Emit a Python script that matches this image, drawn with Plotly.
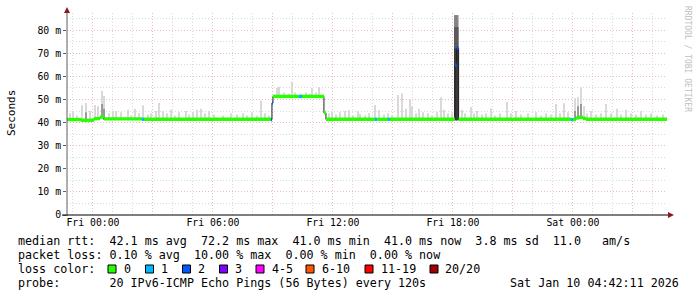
import bisect
import plotly.graph_objects as go
from datetime import datetime, timedelta

# ---------------- data ----------------
FRI = datetime(2026, 1, 9, 0, 0, 0)
T_START = datetime(2026, 1, 8, 22, 42, 11)
T_END = datetime(2026, 1, 10, 4, 42, 11)

# median rtt steps: start minute (relative to Fri 00:00), median ms, lost pings
med_min = [-78, -36, 3, 21, 33, 147, 153, 534, 537, 540, 618, 627, 693, 699,
           846, 852, 885, 891, 1086, 1091, 1097, 1434, 1440, 1449, 1458, 1470, 1479]
med_ms = [41.3, 41.0, 41.7, 42.4, 41.6, 41.4, 41.4, 41.3, 48.4, 51.3, 51.3, 51.3, 44.2, 41.4,
          41.4, 41.4, 41.4, 41.4, 64.9, 72.2, 41.4, 41.3, 41.3, 42.0, 42.3, 41.8, 41.4]
med_loss = [0, 0, 0, 0, 0, 1, 0, 2, 2, 0, 1, 0, 0, 0,
            1, 0, 1, 0, 2, 2, 0, 1, 0, 0, 0, 0, 0]
med_end_min = 1722

# smoke: sampled ping spread (max ping per step)
smoke_min = [-69, -60, -48, -33, -21, -9, 6, 15, 27, 33, 48, 60, 69, 84, 105, 114, 126, 138, 150,
             165, 174, 189, 198, 210, 222, 234, 246, 258, 279, 288, 300, 312, 324, 336, 348, 363,
             390, 414, 432, 450, 462, 477, 492, 504, 516, 528,
             552, 558, 573, 588, 597, 606, 624, 639, 651, 657, 669, 678, 690,
             708, 717, 729, 741, 756, 768, 780, 795, 801, 816, 828, 846, 858, 873, 885, 897,
             915, 927, 939, 951, 957, 969, 978, 990, 1005, 1017, 1032, 1044, 1053, 1065, 1077,
             1107, 1116, 1134, 1143, 1152, 1167, 1179, 1194, 1206, 1221, 1242, 1254, 1269, 1284,
             1305, 1329, 1344, 1359, 1374, 1389, 1401, 1413, 1425, 1446, 1455, 1464, 1473, 1482,
             1494, 1509, 1524, 1539, 1554, 1572, 1584, 1599, 1614, 1629, 1644, 1659, 1674, 1692, 1710]
smoke_top = [44.0, 45.0, 43.0, 47.5, 48.5, 45.0, 47.6, 47.0, 53.8, 51.5, 44.0, 45.0, 45.0, 44.5, 45.5, 43.0, 46.0, 44.0, 47.5,
             43.5, 44.0, 45.0, 48.5, 45.0, 44.0, 45.5, 43.0, 44.5, 45.0, 43.5, 44.5, 45.5, 46.0, 44.0, 45.0, 43.5,
             43.0, 44.0, 43.5, 44.0, 43.0, 44.5, 43.0, 49.4, 44.0, 43.0,
             55.0, 55.5, 53.0, 52.5, 57.6, 53.0, 52.5, 53.0, 52.5, 55.0, 53.0, 55.4, 52.0,
             44.0, 44.7, 43.5, 44.5, 45.0, 45.4, 43.0, 45.0, 43.7, 43.0, 44.0, 47.6, 45.4, 43.5, 44.0, 43.0,
             51.9, 52.6, 46.0, 50.0, 47.0, 44.0, 46.0, 44.5, 44.0, 43.0, 44.5, 51.0, 45.5, 44.0, 44.0,
             45.5, 44.0, 46.7, 44.0, 45.0, 43.5, 44.0, 46.1, 43.0, 44.0, 49.0, 44.0, 45.0, 43.5,
             44.0, 44.5, 43.0, 44.0, 43.5, 48.0, 44.0, 48.4, 44.5, 50.5, 51.0, 55.2, 47.0, 44.0,
             45.0, 43.5, 44.0, 48.0, 44.0, 46.0, 43.5, 45.5, 44.0, 43.5, 45.0, 43.5, 44.0, 43.0, 43.5]

# denser smoke cores
core_min = [-21, 27, 33, 1446, 1455, 1464]
core_top = [44.5, 48.0, 46.0, 45.0, 47.0, 48.0]

# the burst around Fri 18:10
col_min = [1088.5, 1094.0]
col_top = [86.5, 86.5]
col_mid = [81.3, 81.3]
col_inner = [72.0, 72.0]

loss_colors = {0: "#26ff00", 1: "#00b8ff", 2: "#0059ff", 3: "#7e00ff",
               4: "#ff00ff", 6: "#ff5500", 11: "#ff0000", 20: "#a10000"}
loss_labels = ["0", "1", "2", "3", "4-5", "6-10", "11-19", "20/20"]
loss_keys = [0, 1, 2, 3, 4, 6, 11, 20]

y_ticks = [0, 10, 20, 30, 40, 50, 60, 70, 80]
y_ticktext = ["0", "10 m", "20 m", "30 m", "40 m", "50 m", "60 m", "70 m", "80 m"]
x_tick_hours = [0, 3, 6, 9, 12, 15, 18, 21, 24, 27]
x_ticktext = ["Fri 00:00", "", "Fri 06:00", "", "Fri 12:00", "", "Fri 18:00", "", "Sat 00:00", ""]

legend_rows = [
    "median rtt:  42.1 ms avg  72.2 ms max  41.0 ms min  41.0 ms now  3.8 ms sd  11.0   am/s",
    "packet loss: 0.10 % avg  10.00 % max  0.00 % min  0.00 % now",
    "loss color:",
    "probe:       20 IPv6-ICMP Echo Pings (56 Bytes) every 120s",
]
stamp = "Sat Jan 10 04:42:11 2026"

# ---------------- layout geometry ----------------
W, H = 697, 297
PL, PR, PT, PB = 67, 667, 13, 215
YMAX = 87.4
MONO = "DejaVu Sans Mono"


def t(m):
    return FRI + timedelta(minutes=m)


def px(x):
    return (x - PL) / (PR - PL)


def py(y):
    return (PB - y) / (PB - PT)


def median_at(m):
    i = max(bisect.bisect_right(med_min, m) - 1, 0)
    return med_ms[i]


fig = go.Figure()

# smoke (sits on the median level at each step)
s_base = [median_at(m) - 0.5 for m in smoke_min]
fig.add_trace(go.Bar(x=[t(m) for m in smoke_min], y=[v - b for v, b in zip(smoke_top, s_base)],
                     base=s_base, width=4 * 60000, marker=dict(color="#d9d9d9", line_width=0),
                     hoverinfo="skip"))
c_base = [median_at(m) - 0.5 for m in core_min]
fig.add_trace(go.Bar(x=[t(m) for m in core_min], y=[v - b for v, b in zip(core_top, c_base)],
                     base=c_base, width=3 * 60000, marker=dict(color="#9a9a9a", line_width=0),
                     hoverinfo="skip"))
fig.add_trace(go.Bar(x=[t(m) for m in col_min], y=[v - 41 for v in col_top], base=41,
                     width=5.5 * 60000, marker=dict(color="#858585", line_width=0), hoverinfo="skip"))
fig.add_trace(go.Bar(x=[t(m) for m in col_min], y=[v - 41 for v in col_mid], base=41,
                     width=5.5 * 60000, marker=dict(color="#5a5a5a", line_width=0), hoverinfo="skip"))
fig.add_trace(go.Bar(x=[t(m) for m in col_min], y=[v - 41 for v in col_inner], base=41,
                     width=5.5 * 60000, marker=dict(color="#3a3a3a", line_width=0), hoverinfo="skip"))

# median thin line
fig.add_trace(go.Scatter(x=[t(m) for m in med_min] + [t(med_end_min)], y=med_ms + [med_ms[-1]],
                         mode="lines", line=dict(shape="hv", color="#202020", width=1),
                         hoverinfo="skip"))

# median loss-coloured band
ends = med_min[1:] + [med_end_min]
for k in loss_keys:
    xs, ys = [], []
    for s, e, v, l in zip(med_min, ends, med_ms, med_loss):
        if l == k:
            xs += [t(s), t(e), None]
            ys += [v, v, None]
    if xs:
        fig.add_trace(go.Scatter(x=xs, y=ys, mode="lines",
                                 line=dict(color=loss_colors[k], width=3.4), hoverinfo="skip"))

ann = []
shapes = []

# axis lines and arrows
shapes.append(dict(type="line", xref="paper", yref="paper", x0=px(67), x1=px(67), y0=py(216), y1=py(10),
                   line=dict(color="#606060", width=1)))
shapes.append(dict(type="line", xref="paper", yref="paper", x0=px(62), x1=px(670), y0=py(215), y1=py(215),
                   line=dict(color="#000000", width=1)))
shapes.append(dict(type="path", xref="paper", yref="paper",
                   path=f"M {px(64)} {py(13)} L {px(70)} {py(13)} L {px(67)} {py(7)} Z",
                   fillcolor="#8b1a1a", line=dict(width=0)))
shapes.append(dict(type="path", xref="paper", yref="paper",
                   path=f"M {px(668)} {py(212)} L {px(668)} {py(218)} L {px(674)} {py(215)} Z",
                   fillcolor="#8b1a1a", line=dict(width=0)))

# titles
ann.append(dict(text="Seconds", xref="paper", yref="paper", x=px(11), y=py(113), showarrow=False,
                textangle=-90, font=dict(family=MONO, size=11, color="#000000"),
                xanchor="center", yanchor="middle"))
ann.append(dict(text="RRDTOOL / TOBI OETIKER", xref="paper", yref="paper", x=px(687), y=py(59),
                showarrow=False, textangle=90, font=dict(family=MONO, size=8, color="#c0c0c0"),
                xanchor="center", yanchor="middle"))

# legend text
row_y = [241, 255, 269, 283]
for txt, yy in zip(legend_rows, row_y):
    ann.append(dict(text=txt.replace(" ", "&nbsp;"), xref="paper", yref="paper", x=px(16), y=py(yy),
                    showarrow=False, xanchor="left", yanchor="middle",
                    font=dict(family=MONO, size=11.7, color="#000000")))
ann.append(dict(text=stamp, xref="paper", yref="paper", x=px(681), y=py(283), showarrow=False,
                xanchor="right", yanchor="middle", font=dict(family=MONO, size=11.7, color="#000000")))

sq_x = [108, 145.5, 182.5, 219.5, 256, 306, 365, 430]
for sx, k, lab in zip(sq_x, loss_keys, loss_labels):
    shapes.append(dict(type="rect", xref="paper", yref="paper", x0=px(sx), x1=px(sx + 8),
                       y0=py(273), y1=py(265), fillcolor=loss_colors[k],
                       line=dict(color="#000000", width=1)))
    ann.append(dict(text=lab, xref="paper", yref="paper", x=px(sx + 13.5), y=py(269), showarrow=False,
                    xanchor="left", yanchor="middle", font=dict(family=MONO, size=11.7, color="#000000")))

fig.update_layout(
    width=W, height=H, margin=dict(l=PL, r=W - PR, t=PT, b=H - PB),
    paper_bgcolor="#ffffff", plot_bgcolor="#ffffff",
    showlegend=False, barmode="overlay",
    annotations=ann, shapes=shapes,
    font=dict(family=MONO, size=10, color="#000000"),
)
fig.update_xaxes(
    type="date", range=[T_START, T_END],
    tickvals=[FRI + timedelta(hours=h) for h in x_tick_hours], ticktext=x_ticktext,
    showgrid=True, gridcolor="#ebbcbc", griddash="1px,2px", gridwidth=1,
    minor=dict(dtick=3600000, tick0=FRI, showgrid=True, gridcolor="#dadada",
               griddash="1px,2px", gridwidth=1),
    showline=False, zeroline=False, ticks="", tickfont=dict(family=MONO, size=9.8, color="#000000"),
)
fig.update_yaxes(
    range=[0, YMAX], tickvals=y_ticks, ticktext=y_ticktext,
    showgrid=True, gridcolor="#ebbcbc", griddash="1px,2px", gridwidth=1,
    minor=dict(dtick=5, tick0=0, showgrid=True, gridcolor="#dadada", griddash="1px,2px", gridwidth=1),
    showline=False, zeroline=False, ticks="outside", ticklen=3, tickcolor="#606060",
    tickfont=dict(family=MONO, size=9.8, color="#000000"),
)

fig.write_html("out.html")
